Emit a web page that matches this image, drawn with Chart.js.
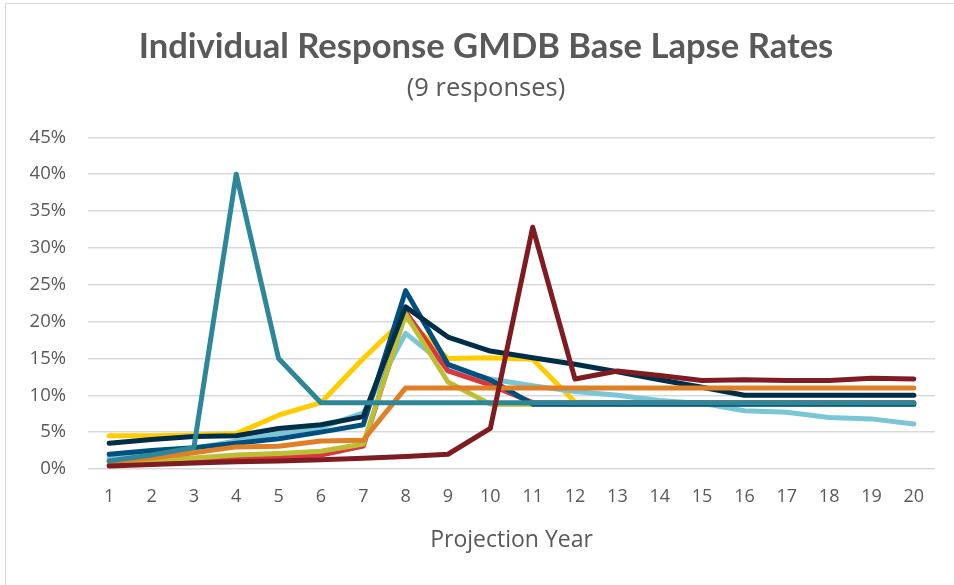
<!DOCTYPE html>
<html>
<head>
<meta charset="utf-8">
<script src="https://cdn.jsdelivr.net/npm/chart.js@4.4.0/dist/chart.umd.min.js"></script>
<style>
  html, body { margin: 0; padding: 0; background: #ffffff; overflow: hidden; width: 954px; height: 585px; }
  #frame { position: absolute; left: 5px; top: 3px; width: 1200px; height: 900px; border: 1px solid #d9d9d9; box-sizing: border-box; }
  #wrap { position: absolute; left: 0; top: 0; width: 972px; height: 585px; }
</style>
</head>
<body>
<div id="frame"></div>
<div id="wrap"><canvas id="c" width="972" height="585"></canvas></div>
<script>
const years = ['1','2','3','4','5','6','7','8','9','10','11','12','13','14','15','16','17','18','19','20'];
const yTicks = [0, 5, 10, 15, 20, 25, 30, 35, 40, 45];

const maroon    = [0.4, 0.6, 0.8, 1.0, 1.1, 1.25, 1.45, 1.7, 2.0, 5.5, 32.8, 12.2, 13.3, 12.7, 12.0, 12.1, 12.0, 12.0, 12.3, 12.2];
const teal      = [1.1, 1.9, 2.9, 40.0, 15.0, 9.0, 9.0, 9.0, 9.0, 9.0, 9.0, 9.0, 9.0, 9.0, 9.0, 9.0, 9.0, 9.0, 9.0, 9.0];
const orange    = [1.0, 1.5, 2.2, 3.0, 3.1, 3.8, 3.9, 11.0, 11.0, 11.0, 11.0, 11.0, 11.0, 11.0, 11.0, 11.0, 11.0, 11.0, 11.0, 11.0];
const navy      = [3.5, 4.0, 4.4, 4.5, 5.5, 6.0, 7.1, 22.0, 17.9, 16.0, 15.1, 14.2, 13.2, 12.1, 11.1, 10.0, 10.0, 10.0, 10.0, 10.0];
const blue      = [2.0, 2.5, 2.9, 3.5, 4.1, 5.0, 6.0, 24.2, 14.2, 12.1, 8.8, 8.8, 8.8, 8.8, 8.8, 8.8, 8.8, 8.8, 8.8, 8.8];
const olive     = [1.0, 1.2, 1.5, 1.9, 2.1, 2.4, 3.4, 21.0, 11.8, 8.8, 8.8, 8.8, 8.8, 8.8, 8.8, 8.8, 8.8, 8.8, 8.8, 8.8];
const red       = [0.5, 0.8, 1.1, 1.3, 1.6, 1.9, 3.1, 21.3, 13.3, 11.4, 9.0, 9.0, 9.0, 9.0, 9.0, 9.0, 9.0, 9.0, 9.0, 9.0];
const lightBlue = [1.5, 2.2, 2.8, 3.8, 4.8, 5.6, 7.6, 18.4, 13.8, 12.2, 11.3, 10.5, 10.0, 9.3, 8.9, 7.9, 7.7, 7.0, 6.8, 6.1];
const yellow    = [4.5, 4.5, 4.6, 4.8, 7.3, 9.0, 15.0, 20.5, 15.0, 15.1, 14.9, 9.1, 9.0, 9.0, 9.0, 9.0, 9.0, 9.0, 9.0, 9.0];

const seriesList = [
  { name: 'Response 9', data: maroon, color: '#7f1c22' },
  { name: 'Response 3', data: teal, color: '#2e8799' },
  { name: 'Response 7', data: orange, color: '#e07f26' },
  { name: 'Response 2', data: navy, color: '#002e48' },
  { name: 'Response 4', data: blue, color: '#00507f' },
  { name: 'Response 8', data: olive, color: '#bdbe34' },
  { name: 'Response 6', data: red, color: '#d7373d' },
  { name: 'Response 5', data: lightBlue, color: '#7ac6d7' },
  { name: 'Response 1', data: yellow, color: '#ffcc00' }
];

const textColor = '#595959';

new Chart(document.getElementById('c'), {
  type: 'line',
  data: {
    labels: years,
    datasets: seriesList.map(s => ({
      label: s.name,
      data: s.data,
      yAxisID: 'y',
      borderColor: s.color,
      backgroundColor: s.color,
      borderWidth: 5,
      borderCapStyle: 'round',
      borderJoinStyle: 'round',
      pointRadius: 0,
      pointHoverRadius: 0,
      tension: 0,
      fill: false
    }))
  },
  options: {
    responsive: false,
    animation: false,
    devicePixelRatio: 1,
    layout: { padding: { left: 0, right: 0, top: 0, bottom: 0 } },
    plugins: {
      legend: { display: false },
      tooltip: { enabled: false },
      title: {
        display: true,
        text: 'Individual Response GMDB Base Lapse Rates',
        color: textColor,
        font: { family: 'Lato', size: 34.6, weight: 'bold', lineHeight: 1.2 },
        padding: { top: 26.2, bottom: 5.3 }
      },
      subtitle: {
        display: true,
        text: '(9 responses)',
        color: textColor,
        font: { family: 'Open Sans', size: 25.5, weight: 'normal', lineHeight: 1.2 },
        padding: { top: 0, bottom: 33.7 }
      }
    },
    scales: {
      x: {
        type: 'category',
        offset: true,
        grid: { display: false, drawTicks: false },
        border: { display: false },
        ticks: {
          color: textColor,
          font: { family: 'Open Sans', size: 18 },
          padding: 17,
          maxRotation: 0,
          autoSkip: false
        },
        title: {
          display: true,
          text: 'Projection Year',
          color: textColor,
          font: { family: 'Open Sans', size: 23 },
          padding: { top: 0, bottom: 31 }
        },
        afterFit: (scale) => { scale.height = 116; }
      },
      y: {
        position: 'left',
        min: 0,
        max: 45,
        afterBuildTicks: (scale) => { scale.ticks = yTicks.map(v => ({ value: v })); },
        grid: { color: '#d9d9d9', lineWidth: 1.5, drawTicks: false },
        border: { display: false },
        ticks: {
          color: textColor,
          font: { family: 'Open Sans', size: 18.5 },
          padding: 22,
          callback: (v) => v + '%'
        },
        afterFit: (scale) => { scale.width = 88; }
      },
      yRightSpace: {
        position: 'right',
        min: 0,
        max: 45,
        grid: { display: false, drawTicks: false },
        border: { display: false },
        ticks: { display: false },
        afterFit: (scale) => { scale.width = 37; }
      }
    }
  }
});
</script>
</body>
</html>
